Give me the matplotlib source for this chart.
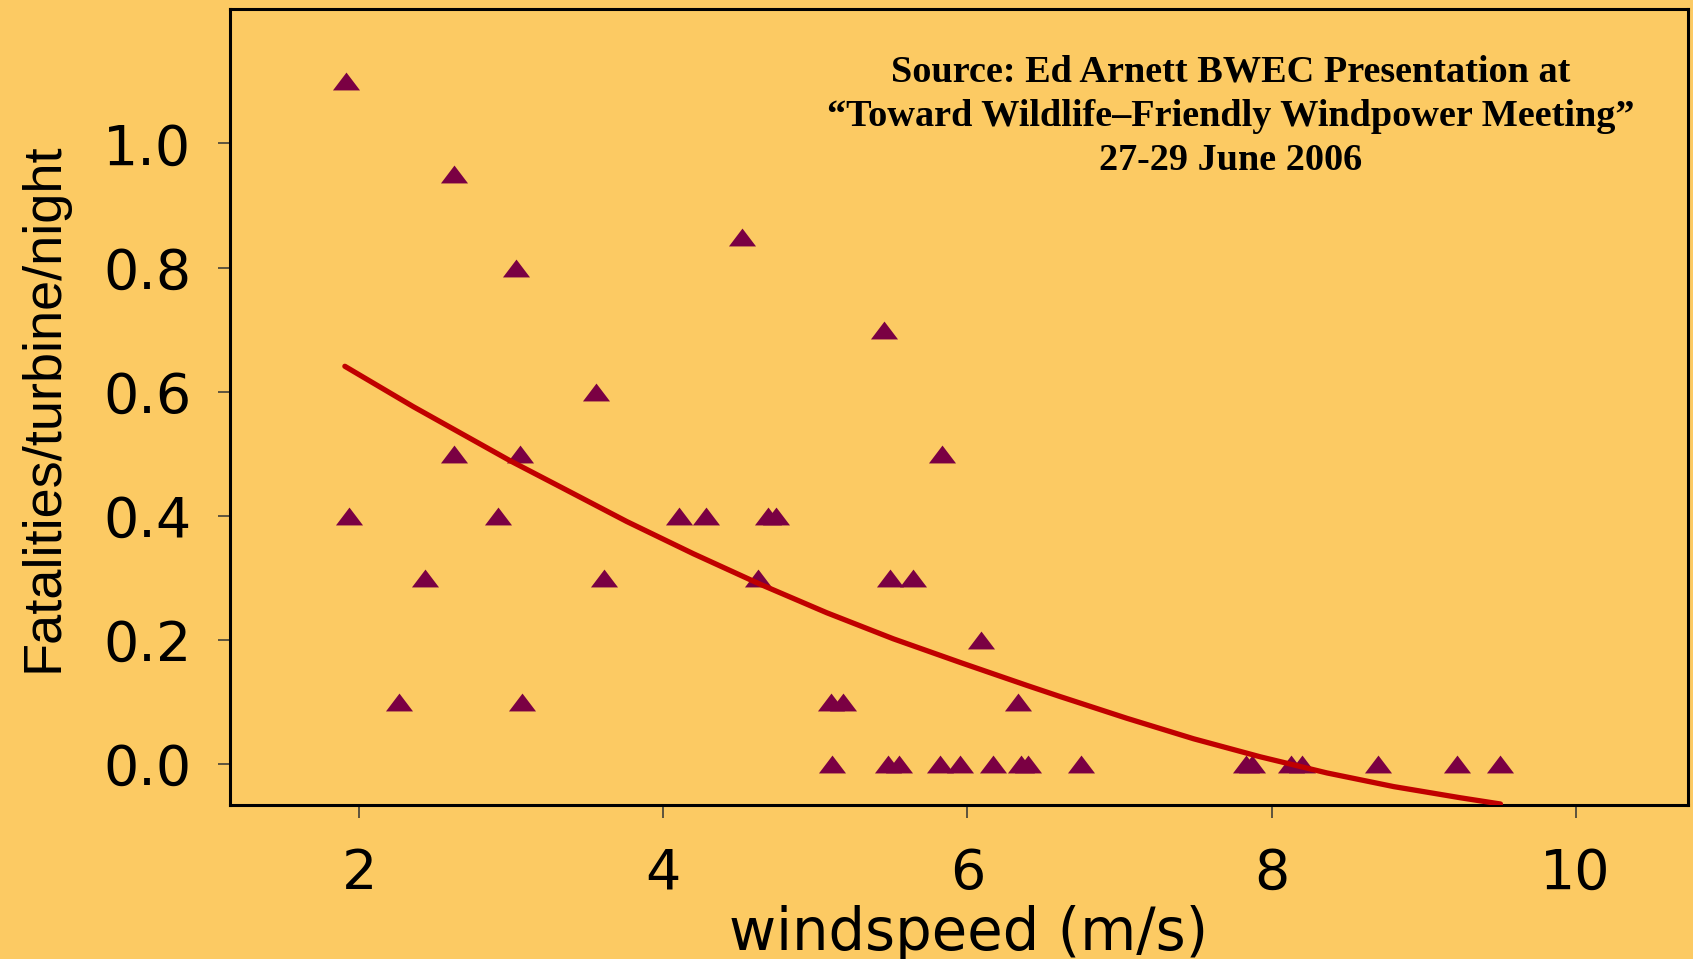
import matplotlib
matplotlib.use("Agg")
import matplotlib.pyplot as plt

# windspeed (m/s) vs fatalities per turbine per night
windspeed = [1.91, 2.62, 3.03, 3.56, 2.62, 3.06, 1.93, 2.91, 4.10, 4.28,
             4.69, 4.74, 2.43, 3.61, 4.62, 5.49, 5.64, 2.26, 3.07, 5.10,
             5.18, 6.33, 4.52, 5.45, 5.83, 6.09,
             5.11, 5.48, 5.55, 5.82, 5.95, 6.17, 6.35, 6.40, 6.75, 7.83,
             7.87, 8.13, 8.20, 8.70, 9.22, 9.50]
fatalities = [1.10, 0.95, 0.80, 0.60, 0.50, 0.50, 0.40, 0.40, 0.40, 0.40,
              0.40, 0.40, 0.30, 0.30, 0.30, 0.30, 0.30, 0.10, 0.10, 0.10,
              0.10, 0.10, 0.85, 0.70, 0.50, 0.20,
              0.0, 0.0, 0.0, 0.0, 0.0, 0.0, 0.0, 0.0, 0.0, 0.0,
              0.0, 0.0, 0.0, 0.0, 0.0, 0.0]

# fitted curve
fit_x = [1.905, 2.355, 2.991, 3.321, 3.759, 4.198, 4.636, 5.075, 5.513,
         5.952, 6.391, 6.610, 7.049, 7.488, 7.926, 8.365, 8.804, 9.243, 9.506]
fit_y = [0.641, 0.576, 0.489, 0.447, 0.391, 0.339, 0.290, 0.244, 0.202,
         0.164, 0.127, 0.109, 0.074, 0.041, 0.012, -0.014, -0.036, -0.054, -0.064]

x_ticks = [2, 4, 6, 8, 10]
y_ticks = [0.0, 0.2, 0.4, 0.6, 0.8, 1.0]

bg = '#FCCA63'
fig = plt.figure(figsize=(16.93, 9.59), dpi=100, facecolor=bg)
ax = fig.add_axes([0.1359, 0.1606, 0.8612, 0.8297], facecolor=bg)

tri = [(-1, -0.66), (1, -0.66), (0, 0.66)]
ax.plot(windspeed, fatalities, linestyle='none', marker=tri, markersize=19.5,
        color='#7A0043', markeredgewidth=0, zorder=2)
ax.plot(fit_x, fit_y, color='#C00000', linewidth=3.8, solid_capstyle='round',
        solid_joinstyle='round', zorder=3)

ax.set_xlim(1.15, 10.74)
ax.set_ylim(-0.0656, 1.216)
ax.set_xticks(x_ticks)
ax.set_yticks(y_ticks)
ax.set_xticklabels([str(t) for t in x_ticks])
ax.set_yticklabels(['%.1f' % t for t in y_ticks])

for s in ax.spines.values():
    s.set_linewidth(2.2)
    s.set_color('black')
ax.tick_params(direction='out', length=9, width=1.1, color='#333333',
               labelsize=40, labelcolor='black')
ax.tick_params(axis='x', pad=21)
ax.tick_params(axis='y', pad=19)

ax.set_xlabel('windspeed (m/s)', fontsize=41.5, va='baseline')
ax.xaxis.set_label_coords(0.5066, -0.182)
ax.set_ylabel('Fatalities/turbine/night', fontsize=39, family='Liberation Sans',
              va='center')
ax.yaxis.set_label_coords(-0.1283, 0.5)

fig.text(1231 / 1693, 1 - 55 / 959,
         'Source: Ed Arnett BWEC Presentation at\n'
         '\u201cToward Wildlife\u2013Friendly Windpower Meeting\u201d\n'
         '27-29 June 2006',
         ha='center', va='top', fontsize=27.5, fontweight='bold',
         family='Liberation Serif', linespacing=1.33, color='black')

fig.savefig('out.png', dpi=100, facecolor=bg)
